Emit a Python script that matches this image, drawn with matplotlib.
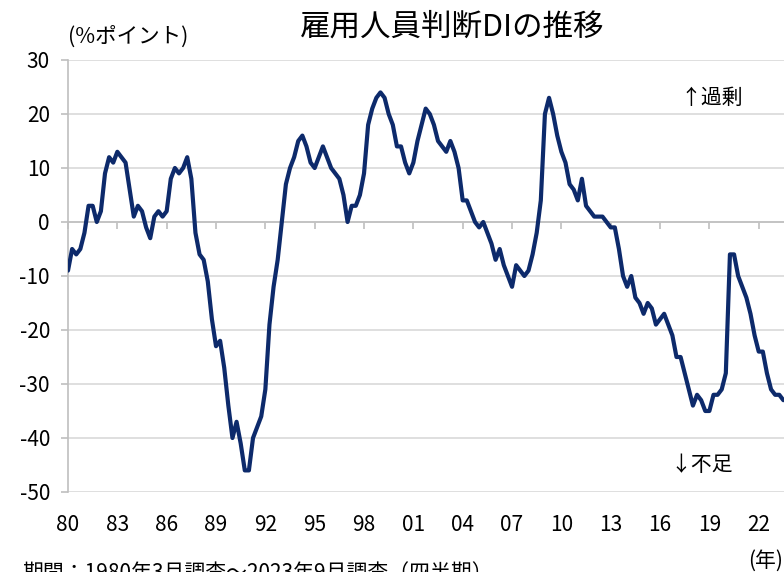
import numpy as np
import matplotlib
matplotlib.use("Agg")
import matplotlib.pyplot as plt

plt.rcParams['font.family'] = ['Noto Sans CJK JP', 'DejaVu Sans']

# Quarterly employment conditions DI, 1980Q1 - 2023Q3
di_values = [
    -9, -5, -6, -5,      # 1980
    -2, 3, 3, 0,         # 1981
    2, 9, 12, 11,        # 1982
    13, 12, 11, 6,       # 1983
    1, 3, 2, -1,         # 1984
    -3, 1, 2, 1,         # 1985
    2, 8, 10, 9,         # 1986
    10, 12, 8, -2,       # 1987
    -6, -7, -11, -18,    # 1988
    -23, -22, -27, -34,  # 1989
    -40, -37, -41, -46,  # 1990
    -46, -40, -38, -36,  # 1991
    -31, -19, -12, -7,   # 1992
    0, 7, 10, 12,        # 1993
    15, 16, 14, 11,      # 1994
    10, 12, 14, 12,      # 1995
    10, 9, 8, 5,         # 1996
    0, 3, 3, 5,          # 1997
    9, 18, 21, 23,       # 1998
    24, 23, 20, 18,      # 1999
    14, 14, 11, 9,       # 2000
    11, 15, 18, 21,      # 2001
    20, 18, 15, 14,      # 2002
    13, 15, 13, 10,      # 2003
    4, 4, 2, 0,          # 2004
    -1, 0, -2, -4,       # 2005
    -7, -5, -8, -10,     # 2006
    -12, -8, -9, -10,    # 2007
    -9, -6, -2, 4,       # 2008
    20, 23, 20, 16,      # 2009
    13, 11, 7, 6,        # 2010
    4, 8, 3, 2,          # 2011
    1, 1, 1, 0,          # 2012
    -1, -1, -5, -10,     # 2013
    -12, -10, -14, -15,  # 2014
    -17, -15, -16, -19,  # 2015
    -18, -17, -19, -21,  # 2016
    -25, -25, -28, -31,  # 2017
    -34, -32, -33, -35,  # 2018
    -35, -32, -32, -31,  # 2019
    -28, -6, -6, -10,    # 2020
    -12, -14, -17, -21,  # 2021
    -24, -24, -28, -31,  # 2022
    -32, -32, -33,       # 2023
]
year_labels = ['80', '83', '86', '89', '92', '95', '98', '01', '04', '07',
               '10', '13', '16', '19', '22']
y_ticks = [30, 20, 10, 0, -10, -20, -30, -40, -50]

title = '雇用人員判断DIの推移'
unit_label = '(%ポイント)'
note = '期間：1980年3月調査～2023年9月調査（四半期）'

W, H = 784, 572
fig = plt.figure(figsize=(W / 100, H / 100), dpi=100)
left, right, top, bottom = 68, 784, 60, 492
ax = fig.add_axes([left / W, 1 - bottom / H, (right - left) / W, (bottom - top) / H])

x = np.arange(len(di_values))
ax.plot(x, di_values, color='#0d2a6b', lw=3.0, solid_joinstyle='round',
        solid_capstyle='round', zorder=3)

ax.set_ylim(-50, 30)
ax.set_xlim(0, 174.15)
ax.set_yticks(y_ticks)
ax.set_yticklabels([str(v) for v in y_ticks], fontsize=15)
ax.yaxis.grid(True, color='#d9d9d9', lw=1.2)
ax.set_axisbelow(True)

for s in ['top', 'right']:
    ax.spines[s].set_visible(False)
ax.spines['left'].set_color('#bfbfbf')
ax.spines['left'].set_linewidth(1.2)
ax.spines['bottom'].set_position(('data', 0))
ax.spines['bottom'].set_color('#bfbfbf')
ax.spines['bottom'].set_linewidth(1.2)

tick_pos = np.arange(0, len(di_values), 12)[:len(year_labels)]
ax.set_xticks(tick_pos)
ax.tick_params(axis='x', direction='out', length=5, width=1.2, color='#bfbfbf',
               labelbottom=False)
ax.tick_params(axis='y', direction='out', length=5, width=1.2, color='#bfbfbf',
               pad=8, labelcolor='black')

sec = ax.secondary_xaxis('bottom')
sec.set_xticks(tick_pos)
sec.set_xticklabels(year_labels, fontsize=15)
sec.spines['bottom'].set_visible(False)
sec.tick_params(length=0, pad=16)

fig.text(452 / W, 1 - 27 / H, title, fontsize=22, ha='center', va='center')
fig.text(68 / W, 1 - 37 / H, unit_label, fontsize=15.5, ha='left', va='center')
fig.text(712 / W, 1 - 98 / H, '↑過剰', fontsize=15, ha='center', va='center')
fig.text(702 / W, 1 - 465 / H, '↓不足', fontsize=15, ha='center', va='center')
fig.text(783 / W, 1 - 561 / H, '(年)', fontsize=15, ha='right', va='center')
fig.text(22 / W, 1 - 563 / H, note, fontsize=15, ha='left', va='top')

fig.savefig('out.png', dpi=100)
